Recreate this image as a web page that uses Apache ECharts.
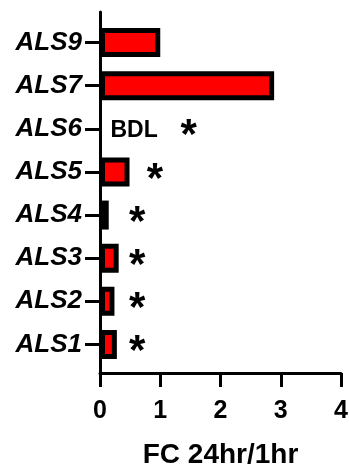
<!DOCTYPE html>
<html>
<head>
<meta charset="utf-8">
<script src="https://cdn.jsdelivr.net/npm/echarts@6/dist/echarts.min.js"></script>
<style>
html,body{margin:0;padding:0;background:#fff;}
#chart{width:349px;height:465px;}
</style>
</head>
<body>
<div id="chart"></div>
<script>
// Categories listed top to bottom
const categories = ['ALS9', 'ALS7', 'ALS6', 'ALS5', 'ALS4', 'ALS3', 'ALS2', 'ALS1'];
// Fold change 24hr/1hr ('-' = below detection limit)
const foldChange = [1.0, 2.89, '-', 0.49, 0.145, 0.31, 0.24, 0.28];
// Significance markers (x position in axis units, null = none)
const starPos = [null, null, 1.47, 0.91, 0.615, 0.615, 0.615, 0.615];
// BDL annotation
const bdlCategory = 'ALS6';
const bdlPos = 0.565;
const xTicks = [0, 1, 2, 3, 4];
const xTitle = 'FC 24hr/1hr';

const FONT = '"Liberation Sans", Arial, sans-serif';

const chart = echarts.init(document.getElementById('chart'), null, {renderer: 'canvas'});

const starData = [];
categories.forEach((c, i) => { if (starPos[i] != null) starData.push([starPos[i], c]); });

chart.setOption({
  animation: false,
  backgroundColor: '#fff',
  grid: [
    {left: 100, right: 8, top: 12, bottom: 92, containLabel: false, outerBoundsMode: 'none'},
    {left: 100, right: 8, top: 21, bottom: 99, containLabel: false, outerBoundsMode: 'none'}
  ],
  xAxis: [
    {
      gridIndex: 0, type: 'value', min: xTicks[0], max: xTicks[xTicks.length - 1], interval: 1,
      axisLine: {show: true, lineStyle: {color: '#000', width: 3}},
      axisTick: {show: true, length: 14, lineStyle: {color: '#000', width: 3}},
      splitLine: {show: false},
      axisLabel: {color: '#000', fontSize: 25, fontWeight: 'bold', fontFamily: FONT, margin: 26},
      name: xTitle, nameLocation: 'middle', nameGap: 68,
      nameTextStyle: {color: '#000', fontSize: 28, fontWeight: 'bold', fontFamily: FONT}
    },
    {
      gridIndex: 1, type: 'value', min: xTicks[0], max: xTicks[xTicks.length - 1], show: false
    }
  ],
  yAxis: [
    {
      gridIndex: 0, type: 'value', min: 0, max: 1,
      axisLine: {show: true, lineStyle: {color: '#000', width: 3}},
      axisTick: {show: false}, axisLabel: {show: false}, splitLine: {show: false}
    },
    {
      gridIndex: 1, type: 'category', data: categories, inverse: true,
      axisLine: {show: false},
      axisTick: {show: true, alignWithLabel: true, length: 15, lineStyle: {color: '#000', width: 3}},
      axisLabel: {color: '#000', fontSize: 26, fontWeight: 'bold', fontStyle: 'italic', fontFamily: FONT, margin: 18}
    }
  ],
  series: [
    {
      type: 'bar', xAxisIndex: 1, yAxisIndex: 1,
      data: foldChange, barWidth: 29,
      itemStyle: {color: '#ff0000', borderColor: '#000', borderWidth: 5}
    },
    {
      type: 'scatter', xAxisIndex: 1, yAxisIndex: 1,
      data: starData, symbolSize: 0, silent: true,
      itemStyle: {opacity: 1},
      label: {show: true, position: 'inside', formatter: '*', color: '#000', fontSize: 42, fontWeight: 'bold', fontFamily: FONT, offset: [0, 8]}
    },
    {
      type: 'scatter', xAxisIndex: 1, yAxisIndex: 1,
      data: [[bdlPos, bdlCategory]], symbolSize: 0, silent: true,
      itemStyle: {opacity: 1},
      label: {show: true, position: 'inside', formatter: 'BDL', color: '#000', fontSize: 23, fontWeight: 'bold', fontFamily: FONT, offset: [0, 2]}
    }
  ]
});
</script>
</body>
</html>
